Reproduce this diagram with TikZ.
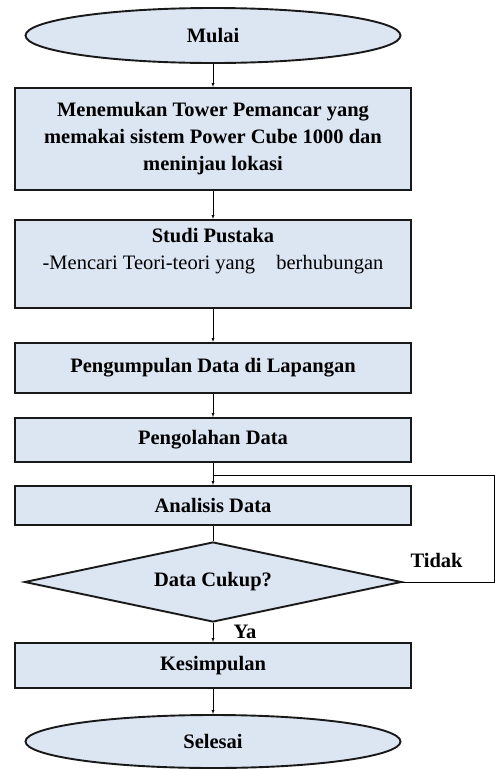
\documentclass[tikz,border=0pt]{standalone}
\usepackage{fontspec}
\setmainfont{Liberation Serif}
\usepackage{tikz}
\usetikzlibrary{shapes.geometric}
\definecolor{Boxblue}{RGB}{220,229,242}

\tikzset{
  proses/.style={draw=black!90, line width=1.9pt, fill=Boxblue, minimum width=396pt,
    align=center, font=\bfseries\fontsize{20.5}{27}\selectfont},
  terminal/.style={ellipse, draw=black!90, line width=1.9pt, fill=Boxblue, minimum width=375pt,
    inner sep=0pt, font=\bfseries\fontsize{20.5}{27}\selectfont},
  label/.style={font=\bfseries\fontsize{20.5}{24}\selectfont}
}

\begin{document}
\begin{tikzpicture}[>=latex, x=1pt, y=-1pt]
\useasboundingbox (0,0) rectangle (495,769);

\node[terminal, minimum height=55pt] at (213,35.5) (mulai) {Mulai};
\node[proses, minimum height=102pt] at (213,139) (tower)
  {Menemukan Tower Pemancar yang\\memakai sistem Power Cube 1000 dan\\meninjau lokasi};
\node[proses, minimum height=88pt] at (213,264) (studi) {};
\node[anchor=north, align=center, font=\fontsize{20.5}{27}\selectfont] at (213,225) (studitxt)
  {\textbf{Studi Pustaka}\\-Mencari Teori-teori yang\hspace{16pt} berhubungan};
\node[proses, minimum height=50pt] at (213,368) (kumpul) {Pengumpulan Data di Lapangan};
\node[proses, minimum height=44pt] at (213,440) (olah) {Pengolahan Data};
\node[proses, minimum height=39pt] at (213,505.5) (analisis) {Analisis Data};
\node[diamond, aspect=4.7, draw=black!90, line width=1.9pt, fill=Boxblue, inner sep=0pt,
  minimum width=377pt, minimum height=80pt, font=\bfseries\fontsize{20.5}{27}\selectfont]
  at (213,582) (cukup) {Data Cukup?};
\node[proses, minimum height=45pt] at (213,665.5) (simpul) {Kesimpulan};
\node[terminal, minimum height=53pt] at (213,741.5) (selesai) {Selesai};

\node[label, anchor=base west] at (407,567) (tidak) {Tidak};
\node[label, anchor=west] at (230,632) (ya) {Ya};

% alur utama
\draw[->] (mulai) -- (tower);
\draw[->] (tower) -- (studi);
\draw[->] (studi) -- (kumpul);
\draw[->] (kumpul) -- (olah);
\draw[->] (olah) -- (analisis);
\draw (analisis) -- (cukup);
\draw[->] (cukup) -- (simpul);
\draw[->] (simpul) -- (selesai);

% kembali bila data belum cukup
\coordinate (balik) at (494,475);
\coordinate (masuk) at (213,475);
\draw (cukup.east) -| (balik) -- (masuk);
\end{tikzpicture}
\end{document}
